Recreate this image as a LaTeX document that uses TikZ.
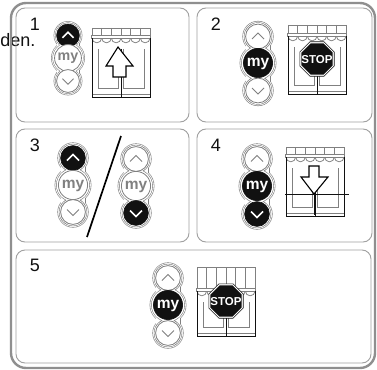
\documentclass[tikz,border=0pt]{standalone}
\usepackage{fontspec}
\setmainfont{Liberation Sans}
\definecolor{framegray}{HTML}{8F8F8F}
\definecolor{panelgray}{HTML}{A0A0A0}
\definecolor{btngray}{HTML}{808080}
\definecolor{ink}{HTML}{111111}
\tikzset{
  panel/.style={draw=panelgray,line width=0.9pt,rounded corners=9pt},
  numlabel/.style={inner sep=0pt,font=\fontsize{18}{18}\selectfont,text=ink},
  onbtn/.style={fill=ink,draw=ink,line width=0.6pt},
  offbtn/.style={fill=white,draw=btngray,line width=0.8pt},
  onmark/.style={draw=white,line width=1.5pt},
  offmark/.style={draw=btngray,line width=1pt},
  ontext/.style={text=white},
  offtext/.style={text=btngray},
  wire/.style={draw=ink,line width=0.75pt},
  softwire/.style={draw=btngray,line width=0.75pt},
  bigarrow/.style={draw=black,fill=white,line width=1.1pt,line join=miter},
}
% x, y of my button, dist up, dist down, scale, states
\newcommand{\remote}[8]{%
  \begin{scope}[shift={(#1,#2)},scale=#5]
    \fill[btngray] (0,-#3) circle[radius=15.6pt] (0,0) circle[radius=18.4pt] (0,#4) circle[radius=15.6pt];
    \fill[btngray] (-12.5pt,-#3) rectangle (12.5pt,#4);
    \fill[white] (0,-#3) circle[radius=15pt] (0,0) circle[radius=17.8pt] (0,#4) circle[radius=15pt];
    \fill[white] (-12pt,-#3) rectangle (12pt,#4);
    \fill[btngray] (0,-#3) circle[radius=14.2pt] (0,0) circle[radius=16.9pt] (0,#4) circle[radius=14.2pt];
    \fill[white] (0,-#3) circle[radius=13.6pt] (0,0) circle[radius=16.3pt] (0,#4) circle[radius=13.6pt];
    \path[#6btn] (0,-#3) circle[radius=12.4pt];
    \path[#7btn] (0,0) circle[radius=14.6pt];
    \path[#8btn] (0,#4) circle[radius=12.4pt];
    \draw[#6mark] ([shift={(-6,2.5)}]0,-#3) -- ([shift={(0,-3.5)}]0,-#3) -- ([shift={(6,2.5)}]0,-#3);
    \draw[#8mark] ([shift={(-6,-2.5)}]0,#4) -- ([shift={(0,3.5)}]0,#4) -- ([shift={(6,-2.5)}]0,#4);
    \node[#7text,transform shape,inner sep=0pt,font=\fontsize{15.5}{15.5}\selectfont\bfseries] at (0,0.5) {my};
  \end{scope}}
% x, y of the top left corner, height of the stripes
\newcommand{\store}[3]{%
  \begin{scope}[shift={(#1,#2)}]
    \draw[softwire] (0,0) -- (58,0);
    \foreach \k in {0,1,...,6} {\draw[softwire] (\k*9.667,0) -- (\k*9.667,#3);}
    \foreach \k in {0,1,...,5} {
      \draw[softwire,fill=white] (\k*9.667,#3+3) arc[start angle=180,end angle=360,radius=4.83pt];}
    \draw[softwire,fill=white] (-0.5,#3) rectangle (58.5,#3+3);
    \draw[softwire] (6,#3+14) -- (6,60) -- (26.5,60) -- (26.5,#3+14);
    \draw[softwire] (31.5,#3+14) -- (31.5,60) -- (52,60) -- (52,#3+14);
    \draw[wire] (0,#3+3) -- (0,69) -- (58,69) -- (58,#3+3);
    \draw[softwire,line width=1.4pt] (0.5,66.5) -- (57.5,66.5);
    \draw[wire] (29,#3+14) -- (29,69);
  \end{scope}}
% centre of the stop sign
\newcommand{\stopsign}[2]{%
  \begin{scope}[shift={(#1,#2)}]
    \draw[ink,fill=white,line width=0.6pt] (-7.1,-17.2) -- (7.1,-17.2) -- (17.2,-7.1) -- (17.2,7.1) -- (7.1,17.2) -- (-7.1,17.2) -- (-17.2,7.1) -- (-17.2,-7.1) -- cycle;
    \fill[ink] (-6.4,-15.6) -- (6.4,-15.6) -- (15.6,-6.4) -- (15.6,6.4) -- (6.4,15.6) -- (-6.4,15.6) -- (-15.6,6.4) -- (-15.6,-6.4) -- cycle;
    \node[text=white,inner sep=0pt,font=\fontsize{11.5}{12}\selectfont\bfseries] at (0,0.3) {STOP};
  \end{scope}}
\begin{document}
\begin{tikzpicture}[x=1pt,y=-1pt]
\useasboundingbox (0,0) rectangle (377,369);
\fill[white] (0,0) rectangle (377,369);
\node[inner sep=0pt,anchor=base east,font=\fontsize{18}{18}\selectfont,text=ink] (tail) at (35.5,46) {den.};
\draw[framegray,line width=2.4pt,rounded corners=15pt] (11,3) rectangle (375,368);
\draw[panel] (16,8) rectangle (189,122);
\draw[panel] (197,8) rectangle (372,122);
\draw[panel] (16,129) rectangle (189,242);
\draw[panel] (197,129) rectangle (372,242);
\draw[panel] (16,250) rectangle (371,363);
\node[numlabel] (n1) at (35,24) {1};
\node[numlabel] (n2) at (216,24) {2};
\node[numlabel] (n3) at (35,145) {3};
\node[numlabel] (n4) at (216,145) {4};
\node[numlabel] (n5) at (35,265) {5};
% panel 1
\remote{68}{58}{24.5}{25}{0.92}{on}{off}{off}
\store{92}{28}{7}
\draw[bigarrow] (118,47) -- (133,66) -- (126,66) -- (126,77) -- (113,77) -- (113,66) -- (106,66) -- cycle;
% panel 2
\remote{258}{63}{26.5}{27.5}{1}{off}{on}{off}
\store{288}{25}{8}
\stopsign{317}{59}
% panel 3
\remote{73}{185}{27}{27}{1}{on}{off}{off}
\remote{136}{186}{27}{27}{1}{off}{off}{on}
\draw[black,line width=1.7pt] (121,136) -- (87,237);
% panel 4
\remote{257}{186}{27}{28}{1}{off}{on}{on}
\store{286}{147}{7}
\draw[bigarrow] (309,166) -- (319,166) -- (319,177) -- (328,177) -- (314,194) -- (301,177) -- (309,177) -- cycle;
\draw[wire,line width=0.9pt] (285,194) -- (349,194);
\draw[wire] (314,194) -- (314,215);
% panel 5
\remote{168}{305}{27}{28}{1}{off}{on}{off}
\store{197}{267}{21}
\stopsign{226}{301}
\end{tikzpicture}
\end{document}
